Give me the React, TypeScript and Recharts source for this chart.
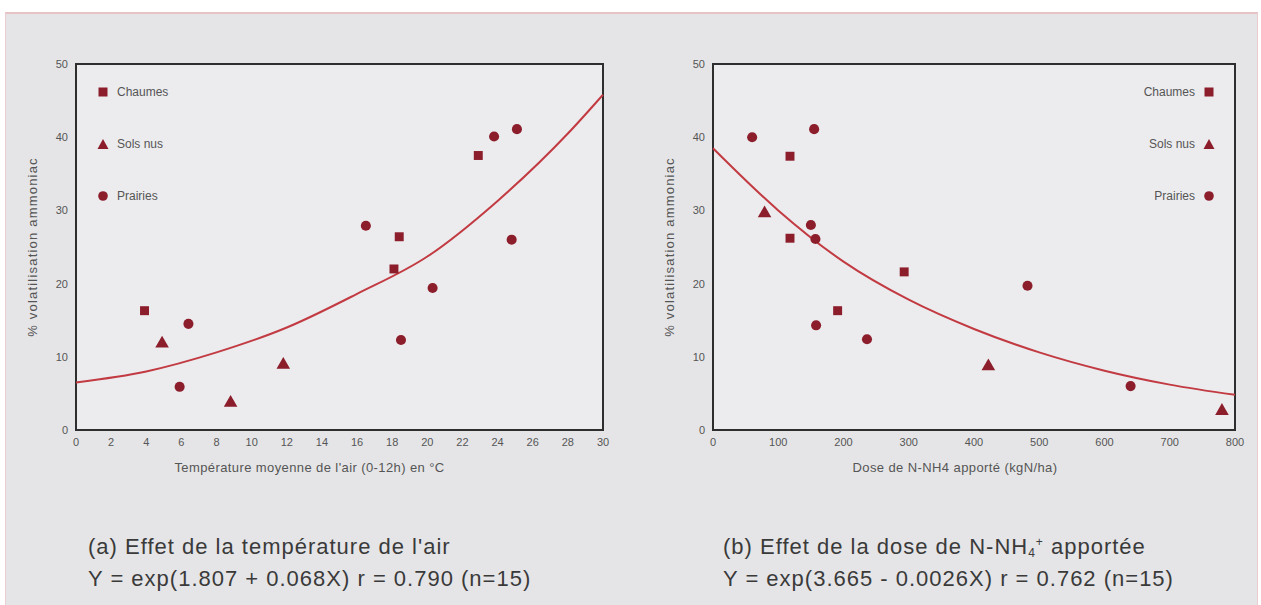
import React from 'react';
import { ComposedChart, Scatter, Line, XAxis, YAxis, ZAxis, Legend, ReferenceArea, Label } from 'recharts';

// (a) temperature effect
const tempChaumes = [
  { x: 3.9, y: 16.3 }, { x: 18.4, y: 26.4 }, { x: 18.1, y: 22.0 }, { x: 22.9, y: 37.5 },
];
const tempSolsNus = [
  { x: 4.9, y: 11.8 }, { x: 11.8, y: 8.9 }, { x: 8.8, y: 3.7 },
];
const tempPrairies = [
  { x: 5.9, y: 5.9 }, { x: 6.4, y: 14.5 }, { x: 16.5, y: 27.9 }, { x: 18.5, y: 12.3 },
  { x: 20.3, y: 19.4 }, { x: 23.8, y: 40.1 }, { x: 25.1, y: 41.1 }, { x: 24.8, y: 26.0 },
];
const tempCurve = [
  { x: 0, y: 6.5 }, { x: 4, y: 8.0 }, { x: 8, y: 10.6 }, { x: 12, y: 14.0 }, { x: 16, y: 18.6 },
  { x: 20, y: 23.7 }, { x: 24, y: 31.3 }, { x: 28, y: 40.5 }, { x: 30, y: 45.8 },
];
const tempTicks = [0, 2, 4, 6, 8, 10, 12, 14, 16, 18, 20, 22, 24, 26, 28, 30];

// (b) N-NH4 dose effect
const doseChaumes = [
  { x: 118, y: 37.4 }, { x: 118, y: 26.2 }, { x: 293, y: 21.6 }, { x: 191, y: 16.3 },
];
const doseSolsNus = [
  { x: 79, y: 29.6 }, { x: 422, y: 8.7 }, { x: 780, y: 2.6 },
];
const dosePrairies = [
  { x: 60, y: 40.0 }, { x: 155, y: 41.1 }, { x: 150, y: 28.0 }, { x: 157, y: 26.1 },
  { x: 158, y: 14.3 }, { x: 236, y: 12.4 }, { x: 482, y: 19.7 }, { x: 640, y: 6.0 },
];
const doseCurve = [
  { x: 0, y: 38.5 }, { x: 100, y: 30.0 }, { x: 200, y: 23.0 }, { x: 300, y: 17.8 }, { x: 400, y: 13.8 },
  { x: 500, y: 10.6 }, { x: 600, y: 8.1 }, { x: 700, y: 6.2 }, { x: 800, y: 4.8 },
];
const doseTicks = [0, 100, 200, 300, 400, 500, 600, 700, 800];

const yTicks = [0, 10, 20, 30, 40, 50];
const seriesNames = ['Chaumes', 'Sols nus', 'Prairies'];

const MARK = '#8c1d2b';
const CURVE = '#c23a42';
const FONT = '"Liberation Sans", Arial, sans-serif';

const Marker: React.FC<{ type: string }> = ({ type }) => (
  <svg width={12} height={12} style={{ display: 'block' }}>
    {type === 'square' && <rect x={1.5} y={1.5} width={9} height={9} fill={MARK} />}
    {type === 'triangle' && <polygon points="6,1 11.5,11 0.5,11" fill={MARK} />}
    {type === 'circle' && <circle cx={6} cy={6} r={4.8} fill={MARK} />}
  </svg>
);

const makeLegend = (right: boolean) => (props: any) => {
  const items = (props.payload || [])
    .filter((p: any) => p.type !== 'none')
    .sort((a: any, b: any) => seriesNames.indexOf(a.value) - seriesNames.indexOf(b.value));
  return (
    <div style={{ fontFamily: FONT, fontSize: 12, color: '#555' }}>
      {items.map((p: any) => (
        <div
          key={p.value}
          style={{
            display: 'flex', alignItems: 'center', height: 52,
            flexDirection: right ? 'row-reverse' : 'row', gap: 8,
          }}
        >
          <Marker type={p.type} />
          <span>{p.value}</span>
        </div>
      ))}
    </div>
  );
};

const YTitle = (props: any) => {
  const { viewBox } = props;
  const x = viewBox.x + 34;
  const y = viewBox.y + viewBox.height / 2;
  return (
    <text x={x} y={y} transform={`rotate(-90, ${x}, ${y})`} textAnchor="middle" dominantBaseline="middle"
      fontFamily={FONT} fontSize={13} fill="#555" letterSpacing={1.2}>
      % volatilisation ammoniac
    </text>
  );
};

interface PanelProps {
  chaumes: { x: number; y: number }[];
  solsNus: { x: number; y: number }[];
  prairies: { x: number; y: number }[];
  curve: { x: number; y: number }[];
  ticks: number[];
  xMax: number;
  xTitle: string;
  titleDx: number;
  legendRight: boolean;
  width: number;
}

const Panel: React.FC<PanelProps> = ({ chaumes, solsNus, prairies, curve, ticks, xMax, xTitle, titleDx, legendRight, width }) => (
  <ComposedChart width={width} height={480} margin={{ top: 64, right: legendRight ? 12 : 17, bottom: 0, left: 0 }}>
    <XAxis type="number" dataKey="x" domain={[0, xMax]} ticks={ticks} interval={0} height={50}
      axisLine={false} tickLine={false} tick={{ fontSize: 11, fill: '#555', fontFamily: FONT }}>
      <Label value={xTitle} position="insideBottom" offset={8} dx={titleDx}
        style={{ fontSize: 13, fill: '#555', fontFamily: FONT, letterSpacing: 0.4 }} />
    </XAxis>
    <YAxis type="number" dataKey="y" domain={[0, 50]} ticks={yTicks} width={76}
      axisLine={false} tickLine={false} tick={{ fontSize: 11, fill: '#555', fontFamily: FONT }}>
      <Label content={<YTitle />} />
    </YAxis>
    <ZAxis range={[80, 80]} />
    <ReferenceArea x1={0} x2={xMax} y1={0} y2={50} fill="#ececee" fillOpacity={1} stroke="#2e2e2e" strokeWidth={2} />
    <Line data={curve} dataKey="y" type="monotone" stroke={CURVE} strokeWidth={2} dot={false}
      legendType="none" isAnimationActive={false} />
    <Scatter name="Chaumes" data={chaumes} shape="square" legendType="square" fill={MARK} isAnimationActive={false} />
    <Scatter name="Sols nus" data={solsNus} shape="triangle" legendType="triangle" fill={MARK} isAnimationActive={false} />
    <Scatter name="Prairies" data={prairies} shape="circle" legendType="circle" fill={MARK} isAnimationActive={false} />
    <Legend layout="horizontal" verticalAlign="middle" align="center"
      content={makeLegend(legendRight)}
      wrapperStyle={legendRight
        ? { top: 66, right: 32, left: 'auto', width: 'auto' }
        : { top: 66, left: 97, width: 'auto' }} />
  </ComposedChart>
);

const caption: React.CSSProperties = {
  position: 'absolute', fontFamily: FONT, fontSize: 22, letterSpacing: 1, color: '#3a3a3a', whiteSpace: 'nowrap',
};

export default function App() {
  return (
    <div style={{ position: 'absolute', left: 0, top: 0, width: 1261, height: 605, background: '#fff', overflow: 'hidden' }}>
      <div style={{
        position: 'absolute', left: 5, top: 12, width: 1251, height: 600, background: '#e5e5e7',
        borderTop: '2px solid #e7c3c6', borderLeft: '1px solid #e9cdd0', borderRight: '1px solid #e9cdd0',
      }} />
      <div style={{ position: 'absolute', left: 0, top: 0 }}>
        <Panel chaumes={tempChaumes} solsNus={tempSolsNus} prairies={tempPrairies} curve={tempCurve}
          ticks={tempTicks} xMax={30} xTitle="Température moyenne de l'air (0-12h) en °C" titleDx={-30}
          legendRight={false} width={620} />
      </div>
      <div style={{ position: 'absolute', left: 637, top: 0 }}>
        <Panel chaumes={doseChaumes} solsNus={doseSolsNus} prairies={dosePrairies} curve={doseCurve}
          ticks={doseTicks} xMax={800} xTitle="Dose de N-NH4 apporté (kgN/ha)" titleDx={-19}
          legendRight={true} width={610} />
      </div>
      <div style={{ ...caption, left: 88, top: 534 }}>(a) Effet de la température de l'air</div>
      <div style={{ ...caption, left: 88, top: 566 }}>Y = exp(1.807 + 0.068X) r = 0.790 (n=15)</div>
      <div style={{ ...caption, left: 723, top: 534 }}>
        (b) Effet de la dose de N-NH<sub style={{ fontSize: 12, verticalAlign: -3 }}>4</sub>
        <sup style={{ fontSize: 12, verticalAlign: 8 }}>+</sup> apportée
      </div>
      <div style={{ ...caption, left: 723, top: 566 }}>Y = exp(3.665 - 0.0026X) r = 0.762 (n=15)</div>
    </div>
  );
}
